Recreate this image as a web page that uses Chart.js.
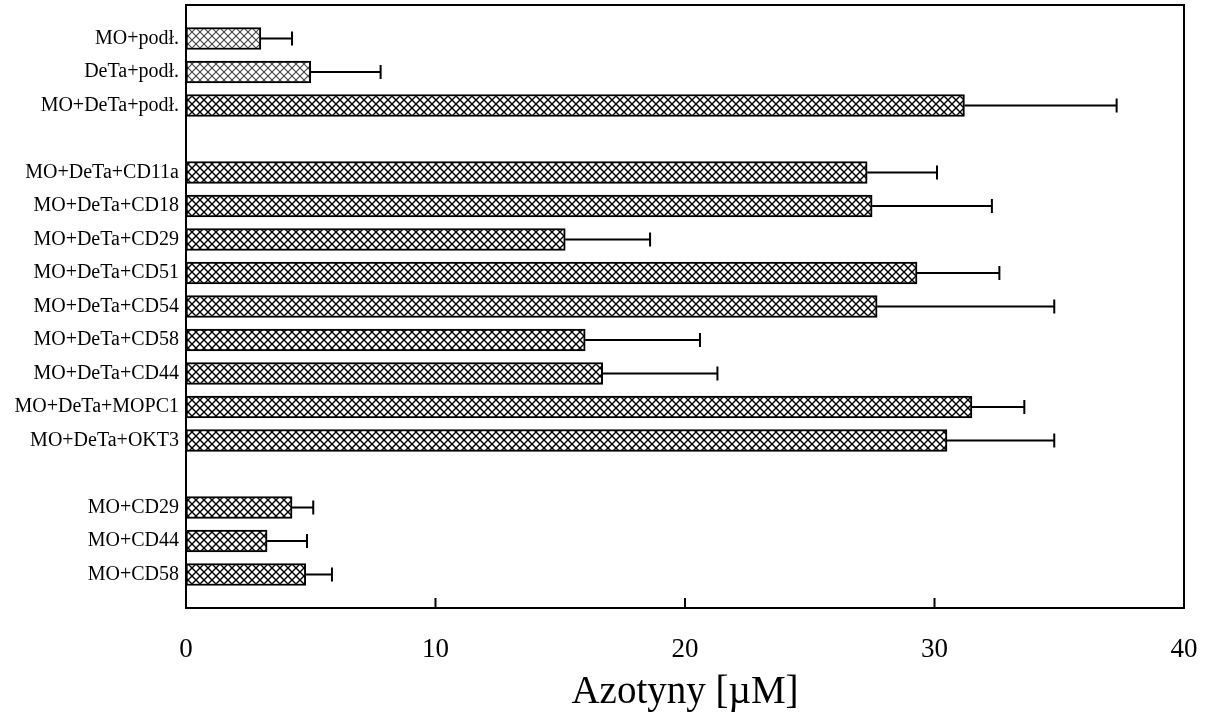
<!DOCTYPE html>
<html>
<head>
<meta charset="utf-8">
<title>Azotyny</title>
<script src="https://cdn.jsdelivr.net/npm/chart.js@4/dist/chart.umd.min.js"></script>
<style>
  html, body { margin: 0; padding: 0; background: #fff; }
  #wrap { width: 1213px; height: 721px; position: relative; }
</style>
</head>
<body>
<div id="wrap"><canvas id="chart"></canvas></div>
<script>
// Wiersze wykresu (puste etykiety = odstępy między grupami)
const categories = [
    '',
    'MO+podł.', 'DeTa+podł.', 'MO+DeTa+podł.',
    '',
    'MO+DeTa+CD11a', 'MO+DeTa+CD18', 'MO+DeTa+CD29', 'MO+DeTa+CD51',
    'MO+DeTa+CD54', 'MO+DeTa+CD58', 'MO+DeTa+CD44', 'MO+DeTa+MOPC1', 'MO+DeTa+OKT3',
    '',
    'MO+CD29', 'MO+CD44', 'MO+CD58',
    ''
];

// Średnie stężenie azotynów [µM]
const values = [
    null,
    3.0, 5.0, 31.2,
    null,
    27.3, 27.5, 15.2, 29.3, 27.7, 16.0, 16.7, 31.5, 30.5,
    null,
    4.25, 3.25, 4.8,
    null
];

// Odchylenia (rysowane tylko w prawo)
const errors = [
    null,
    1.25, 2.8, 6.1,
    null,
    2.8, 4.8, 3.4, 3.3, 7.1, 4.6, 4.6, 2.1, 4.3,
    null,
    0.85, 1.6, 1.05,
    null
];

const xTicks = [0, 10, 20, 30, 40];

// Kratkowany wzór wypełnienia słupków
function hatch(color, width) {
    const s = 8;
    const c = document.createElement('canvas');
    c.width = c.height = s;
    const g = c.getContext('2d');
    g.fillStyle = '#fff';
    g.fillRect(0, 0, s, s);
    g.strokeStyle = color;
    g.lineWidth = width;
    g.beginPath();
    g.moveTo(0, 0); g.lineTo(s, s);
    g.moveTo(s, 0); g.lineTo(0, s);
    g.stroke();
    return g.createPattern(c, 'repeat');
}

const fillDark = hatch('#000', 1.4);
const fillLight = hatch('#444', 1.1);
const fills = categories.map((c, i) => (i === 1 || i === 2) ? fillLight : fillDark);

// Słupki błędów
const errorBars = {
    id: 'errorBars',
    afterDatasetsDraw(chart) {
        const ctx = chart.ctx;
        const xs = chart.scales.x;
        const meta = chart.getDatasetMeta(0);
        ctx.save();
        ctx.strokeStyle = '#000';
        ctx.lineWidth = 2;
        meta.data.forEach((bar, i) => {
            if (values[i] == null || errors[i] == null) return;
            const x0 = xs.getPixelForValue(values[i]);
            const x1 = xs.getPixelForValue(values[i] + errors[i]);
            const y = bar.y;
            ctx.beginPath();
            ctx.moveTo(x0, y);
            ctx.lineTo(x1, y);
            ctx.moveTo(x1, y - 7);
            ctx.lineTo(x1, y + 7);
            ctx.stroke();
        });
        ctx.restore();
    }
};

// Ramka wykresu i znaczniki osi X skierowane do środka
const frame = {
    id: 'frame',
    afterDraw(chart) {
        const { ctx, chartArea: a } = chart;
        const xs = chart.scales.x;
        ctx.save();
        ctx.strokeStyle = '#000';
        ctx.lineWidth = 2;
        ctx.strokeRect(a.left, a.top, a.right - a.left, a.bottom - a.top);
        ctx.beginPath();
        xTicks.slice(1, -1).forEach(v => {
            const x = xs.getPixelForValue(v);
            ctx.moveTo(x, a.bottom);
            ctx.lineTo(x, a.bottom - 10);
        });
        ctx.stroke();
        ctx.restore();
    }
};

Chart.defaults.font.family = '"Liberation Serif", "Times New Roman", serif';
Chart.defaults.color = '#000';

new Chart(document.getElementById('chart').getContext('2d'), {
    type: 'bar',
    data: {
        labels: categories,
        datasets: [{
            data: values,
            backgroundColor: fills,
            borderColor: '#000',
            borderWidth: 2,
            borderSkipped: false,
            barThickness: 22
        }]
    },
    options: {
        indexAxis: 'y',
        responsive: true,
        maintainAspectRatio: false,
        animation: false,
        layout: { padding: { top: 5, right: 29, bottom: 0, left: 0 } },
        plugins: {
            legend: { display: false },
            tooltip: { enabled: false }
        },
        scales: {
            x: {
                type: 'linear',
                min: 0,
                max: 40,
                afterBuildTicks: s => { s.ticks = xTicks.map(v => ({ value: v })); },
                grid: { display: false, drawTicks: false },
                border: { display: false },
                ticks: { font: { size: 27 }, padding: 26, maxRotation: 0 },
                title: {
                    display: true,
                    text: 'Azotyny [µM]',
                    font: { size: 39 },
                    padding: { top: 0, bottom: 5 }
                },
                afterFit: s => {
                    s.height = 113;
                    s.paddingLeft = 0;
                    s.paddingRight = 0;
                }
            },
            y: {
                type: 'category',
                offset: false,
                grid: { display: false, drawTicks: false },
                border: { display: false },
                ticks: { autoSkip: false, font: { size: 20 }, padding: 7 },
                afterFit: s => {
                    s.width = 186;
                    s.paddingTop = 0;
                    s.paddingBottom = 0;
                }
            }
        }
    },
    plugins: [errorBars, frame]
});
</script>
</body>
</html>
